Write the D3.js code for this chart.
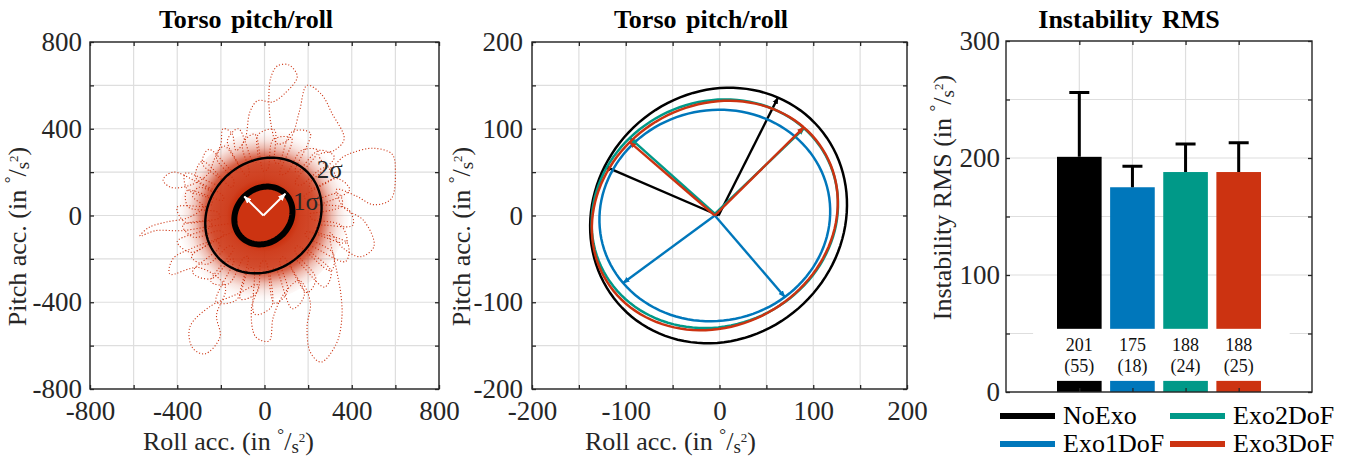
<!DOCTYPE html>
<html>
<head>
<meta charset="utf-8">
<script src="https://cdn.jsdelivr.net/npm/d3@7/dist/d3.min.js"></script>
<style>
    body { margin: 0; background: #fff; }
    svg text { font-family: "Liberation Serif", "Times New Roman", serif; fill: #262626; }
</style>
</head>
<body>
<svg id="chart"></svg>
<script>
// ---- data ----
const groups = ["NoExo", "Exo1DoF", "Exo2DoF", "Exo3DoF"];
const groupColors = ["#000000", "#0077BB", "#009988", "#CC3311"];
const rmsMean = [201, 175, 188, 188];
const rmsSd = [55, 18, 24, 25];

// 1 sigma ellipses of each condition: centre, major / minor half axes, angle of the major axis (deg)
const ellCx = [-1, -5, -5, -5];
const ellCy = [0, 0, 2, 0];
const ellMajor = [150, 125, 137, 139];
const ellMinor = [134, 120, 126, 124];
const ellAngle = [65, 218.5, 46, 47];

// sigma ellipse of the raw Exo3DoF samples (left panel)
const sigmaEll = {cx: -5, cy: 0, major: 142, minor: 124, angle: 45};

// torso trajectory (roll acc., pitch acc.): large excursions
const torsoPath = [
    [0, 0], [-120, -30], [-250, -50], [-380, -70], [-500, -70], [-571, -95], [-530, -55], [-450, -30],
    [-350, -10], [-280, 40], [-330, 90], [-300, 130], [-240, 110], [-320, 160], [-420, 200], [-465, 165],
    [-430, 130], [-340, 140], [-260, 190], [-230, 260], [-200, 330], [-190, 400], [-150, 380], [-130, 300],
    [-90, 350], [-66, 480], [-30, 530], [35, 523], [90, 560], [150, 640], [112, 694], [60, 690], [30, 640],
    [20, 540], [30, 420], [60, 330], [120, 360], [160, 480], [195, 600], [260, 560], [310, 470], [365, 353],
    [320, 300], [250, 280], [300, 220], [360, 270], [410, 292], [500, 310], [585, 283], [600, 200],
    [580, 76], [500, 50], [420, 90], [330, 120], [360, 40], [456, -25], [502, -142], [440, -190],
    [360, -150], [300, -80], [330, -250], [350, -362], [355, -468], [330, -590], [259, -676], [210, -630],
    [195, -514], [210, -400], [160, -300], [90, -360], [40, -470], [21, -578], [-40, -560], [-60, -430],
    [-30, -320], [-120, -360], [-250, -420], [-342, -514], [-330, -610], [-273, -638], [-204, -560],
    [-220, -460], [-180, -330], [-300, -240], [-434, -270], [-420, -200], [-330, -150], [-200, -100], [0, 0]
];
// small loops around the dense core
const torsoRing = [
    [210, 10], [355, 45], [340, 100], [220, 70], [180, 85], [325, 185], [275, 220], [165, 140],
    [140, 150], [245, 300], [170, 300], [100, 195], [70, 190], [125, 355], [40, 350], [15, 215],
    [-5, 205], [-45, 375], [-100, 330], [-70, 200], [-80, 180], [-185, 320], [-220, 265], [-140, 160],
    [-150, 130], [-285, 250], [-315, 175], [-190, 90], [-190, 70], [-355, 115], [-350, 40], [-215, 15],
    [-205, -10], [-375, -45], [-325, -100], [-205, -70], [-185, -85], [-335, -190], [-265, -225], [-160, -140],
    [-140, -150], [-245, -305], [-165, -315], [-95, -195], [-75, -190], [-110, -385], [-35, -355], [-15, -215],
    [5, -210], [45, -405], [105, -350], [70, -210], [85, -190], [195, -355], [235, -290], [140, -165],
    [150, -140], [305, -255], [315, -175], [190, -95], [190, -75], [375, -125], [350, -45], [215, -15], [210, 10]
];
const torsoRing2 = [
    [245, 48], [390, 118], [335, 170], [215, 125], [205, 142], [320, 270], [250, 300], [150, 200],
    [140, 205], [210, 380], [125, 385], [65, 240], [48, 245], [45, 395], [-30, 372], [-32, 250],
    [-50, 245], [-120, 400], [-170, 345], [-118, 222], [-142, 205], [-255, 305], [-285, 240], [-195, 158],
    [-205, 140], [-362, 195], [-355, 122], [-242, 72], [-246, 46], [-400, 38], [-365, -30], [-250, -28],
    [-243, -50], [-400, -120], [-338, -170], [-220, -118], [-205, -142], [-330, -262], [-245, -292], [-152, -200],
    [-140, -205], [-222, -398], [-130, -390], [-70, -242], [-50, -245], [-45, -455], [32, -420], [30, -250],
    [50, -245], [128, -430], [183, -365], [120, -222], [140, -205], [275, -330], [305, -258], [198, -152],
    [205, -140], [372, -212], [380, -128], [238, -72], [245, -48], [405, -45], [382, 30], [245, 48]
];

const pitchTicks = [-800, -400, 0, 400, 800];
const pitchGrid = d3.range(-800, 801, 200);
const meanTicks = [-200, -100, 0, 100, 200];
const meanGrid = d3.range(-200, 201, 50);
const rmsTicks = [0, 100, 200, 300];
const rmsGrid = d3.range(0, 301, 50);

// ---- helpers ----
const serif = "'Liberation Serif', 'Times New Roman', serif";
const svg = d3.select("#chart").attr("width", 1356).attr("height", 457).attr("font-family", serif);
const defs = svg.append("defs");
const axisColor = "#262626";
const gridColor = "#dedede";
const red = "#CC3311";

function arrowMarker(id, color, size) {
    defs.append("marker")
        .attr("id", id)
        .attr("viewBox", "0 0 10 10")
        .attr("refX", 9).attr("refY", 5)
        .attr("markerWidth", size).attr("markerHeight", size)
        .attr("markerUnits", "userSpaceOnUse")
        .attr("orient", "auto")
        .append("path")
        .attr("d", "M0,1L10,5L0,9Z")
        .attr("fill", color);
}

function ellipsePoints(cx, cy, a, b, deg) {
    const r = deg * Math.PI / 180;
    return d3.range(0, 361, 3).map(function (t) {
        const u = t * Math.PI / 180;
        const ex = a * Math.cos(u), ey = b * Math.sin(u);
        return [cx + ex * Math.cos(r) - ey * Math.sin(r), cy + ex * Math.sin(r) + ey * Math.cos(r)];
    });
}

// "(in °/s²)" in the MATLAB latex look
function unitLabel(sel, prefix) {
    sel.attr("font-size", 26).attr("font-family", serif);
    sel.append("tspan").text(prefix + " (in ");
    sel.append("tspan").attr("font-size", 17).attr("dy", -10).text("°");
    sel.append("tspan").attr("font-size", 26).attr("dy", 10).text("/");
    sel.append("tspan").attr("font-size", 19).attr("dy", 3).text("s");
    sel.append("tspan").attr("font-size", 13).attr("dy", -11).text("2");
    sel.append("tspan").attr("font-size", 26).attr("dy", 8).text(")");
}

function frame(g, x, y, opt) {
    const [x0, x1] = x.range();
    const [y1, y0] = y.range();

    g.append("g").selectAll("line").data(opt.xGrid).join("line")
        .attr("x1", d => x(d)).attr("x2", d => x(d)).attr("y1", y0).attr("y2", y1)
        .attr("stroke", gridColor).attr("stroke-width", 1.2);
    g.append("g").selectAll("line").data(opt.yGrid).join("line")
        .attr("x1", x0).attr("x2", x1).attr("y1", d => y(d)).attr("y2", d => y(d))
        .attr("stroke", gridColor).attr("stroke-width", 1.2);
}

function axes(g, x, y, opt) {
    const [x0, x1] = x.range();
    const [y1, y0] = y.range();
    const fx = d => opt.xTicks.includes(d) ? String(d) : "";
    const fy = d => opt.yTicks.includes(d) ? String(d) : "";

    const parts = [
        [d3.axisBottom(x).tickValues(opt.xGrid).tickFormat(fx).tickPadding(12), `translate(0,${y1})`],
        [d3.axisTop(x).tickValues(opt.xGrid).tickFormat(""), `translate(0,${y0})`],
        [d3.axisLeft(y).tickValues(opt.yGrid).tickFormat(fy).tickPadding(opt.yPad), `translate(${x0},0)`],
        [d3.axisRight(y).tickValues(opt.yGrid).tickFormat(""), `translate(${x1},0)`]
    ];
    parts.forEach(function (p) {
        const a = g.append("g").attr("transform", p[1])
            .call(p[0].tickSize(-4))
            .attr("font-family", serif)
            .attr("font-size", 27);
        a.select(".domain").remove();
        a.selectAll("line").attr("stroke", axisColor).attr("stroke-width", 1.3);
        a.selectAll("text").style("fill", axisColor);
    });

    g.append("rect")
        .attr("x", x0).attr("y", y0).attr("width", x1 - x0).attr("height", y1 - y0)
        .attr("fill", "none").attr("stroke", axisColor).attr("stroke-width", 1.4);
}

function title(txt, cx) {
    svg.append("text")
        .attr("x", cx).attr("y", 28)
        .attr("text-anchor", "middle")
        .attr("font-size", 26).attr("font-weight", "bold")
        .attr("word-spacing", 3)
        .style("fill", "#000")
        .text(txt);
}

// ---- left: raw torso pitch/roll ----
function rawPanel() {
    const x = d3.scaleLinear().domain([-800, 800]).range([90, 439]);
    const y = d3.scaleLinear().domain([-800, 800]).range([389, 42]);
    const g = svg.append("g");
    const opt = {xGrid: pitchGrid, yGrid: pitchGrid, xTicks: pitchTicks, yTicks: pitchTicks, yPad: 8};
    const line = d3.line().x(d => x(d[0])).y(d => y(d[1]));
    const curve = d3.line().x(d => x(d[0])).y(d => y(d[1])).curve(d3.curveCatmullRom.alpha(0.5));

    frame(g, x, y, opt);

    // dense core of the cloud
    const grad = defs.append("radialGradient").attr("id", "core");
    [[0, 1], [0.36, 1], [0.42, 0.94], [0.6, 0.88], [0.67, 0.78], [0.72, 0.58], [0.78, 0.34], [0.86, 0.14], [0.93, 0.05], [1, 0]]
        .forEach(s => grad.append("stop").attr("offset", s[0]).attr("stop-color", red).attr("stop-opacity", s[1]));
    g.append("path")
        .attr("d", line(ellipsePoints(sigmaEll.cx, sigmaEll.cy, 3 * sigmaEll.major, 3 * sigmaEll.minor, sigmaEll.angle)) + "Z")
        .attr("fill", "url(#core)");

    g.selectAll(".traj").data([torsoRing2, torsoRing, torsoPath]).join("path")
        .attr("d", curve)
        .attr("fill", "none")
        .attr("stroke", red)
        .attr("stroke-width", 1.1)
        .attr("stroke-dasharray", "1.1 2");

    // 2 sigma and 1 sigma
    g.append("path")
        .attr("d", line(ellipsePoints(sigmaEll.cx, sigmaEll.cy, 2 * sigmaEll.major, 2 * sigmaEll.minor, sigmaEll.angle)))
        .attr("fill", "none").attr("stroke", "#000").attr("stroke-width", 2.4);
    g.append("path")
        .attr("d", line(ellipsePoints(sigmaEll.cx, sigmaEll.cy, sigmaEll.major, sigmaEll.minor, sigmaEll.angle)))
        .attr("fill", red).attr("stroke", "#000").attr("stroke-width", 6);

    arrowMarker("arrWhite", "#fff", 8);
    const r = sigmaEll.angle * Math.PI / 180;
    [[sigmaEll.major, r], [sigmaEll.minor, r + Math.PI / 2]].forEach(function (p) {
        g.append("line")
            .attr("x1", x(sigmaEll.cx)).attr("y1", y(sigmaEll.cy))
            .attr("x2", x(sigmaEll.cx + p[0] * Math.cos(p[1]))).attr("y2", y(sigmaEll.cy + p[0] * Math.sin(p[1])))
            .attr("stroke", "#fff").attr("stroke-width", 2)
            .attr("marker-end", "url(#arrWhite)");
    });

    g.append("text").attr("x", x(240)).attr("y", y(172)).attr("font-size", 25).text("2σ");
    g.append("text").attr("x", x(131)).attr("y", y(25)).attr("font-size", 25).text("1σ");

    axes(g, x, y, opt);
    title("Torso pitch/roll", 246);

    unitLabel(svg.append("text").attr("x", 228.5).attr("y", 450).attr("text-anchor", "middle"), "Roll acc.");
    unitLabel(svg.append("text").attr("transform", "translate(26,236.5) rotate(-90)").attr("text-anchor", "middle"), "Pitch acc.");
}

// ---- middle: 1 sigma ellipses per condition ----
function ellipsePanel() {
    const x = d3.scaleLinear().domain([-200, 200]).range([532, 907]);
    const y = d3.scaleLinear().domain([-200, 200]).range([389, 42]);
    const g = svg.append("g");
    const opt = {xGrid: meanGrid, yGrid: meanGrid, xTicks: meanTicks, yTicks: meanTicks, yPad: 9};
    const line = d3.line().x(d => x(d[0])).y(d => y(d[1]));

    frame(g, x, y, opt);

    groups.forEach(function (name, i) {
        const c = groupColors[i];
        arrowMarker("arr" + i, c, 7);
        g.append("path")
            .attr("d", line(ellipsePoints(ellCx[i], ellCy[i], ellMajor[i], ellMinor[i], ellAngle[i])))
            .attr("fill", "none").attr("stroke", c).attr("stroke-width", 2.5);
        const r = ellAngle[i] * Math.PI / 180;
        [[ellMajor[i], r], [ellMinor[i], r + Math.PI / 2]].forEach(function (p) {
            g.append("line")
                .attr("x1", x(ellCx[i])).attr("y1", y(ellCy[i]))
                .attr("x2", x(ellCx[i] + p[0] * Math.cos(p[1]))).attr("y2", y(ellCy[i] + p[0] * Math.sin(p[1])))
                .attr("stroke", c).attr("stroke-width", 2.4)
                .attr("marker-end", `url(#arr${i})`);
        });
    });

    axes(g, x, y, opt);
    title("Torso pitch/roll", 701);

    unitLabel(svg.append("text").attr("x", 670.5).attr("y", 450).attr("text-anchor", "middle"), "Roll acc.");
    unitLabel(svg.append("text").attr("transform", "translate(470,236.5) rotate(-90)").attr("text-anchor", "middle"), "Pitch acc.");
}

// ---- right: instability RMS bars ----
function rmsPanel() {
    const x = d3.scaleLinear().domain([-0.38, 5.38]).range([1006, 1312]);
    const y = d3.scaleLinear().domain([0, 300]).range([392, 41]);
    const g = svg.append("g");
    const pos = groups.map((d, i) => i + 1);
    const opt = {xGrid: pos, yGrid: rmsGrid, xTicks: [], yTicks: rmsTicks, yPad: 6};
    const bw = 0.84 * (x(1) - x(0));

    frame(g, x, y, opt);

    g.selectAll(".bar").data(rmsMean).join("rect")
        .attr("x", (d, i) => x(pos[i]) - bw / 2)
        .attr("width", bw)
        .attr("y", d => y(d))
        .attr("height", d => y(0) - y(d))
        .attr("fill", (d, i) => groupColors[i]);

    // error bars (upper only)
    g.selectAll(".err").data(rmsMean).join("path")
        .attr("d", (d, i) => `M${x(pos[i])},${y(d)}V${y(d + rmsSd[i])}M${x(pos[i]) - 10},${y(d + rmsSd[i])}h20`)
        .attr("fill", "none").attr("stroke", "#000").attr("stroke-width", 3);

    // value box
    g.append("rect")
        .attr("x", x(0.13)).attr("width", x(4.96) - x(0.13))
        .attr("y", y(54)).attr("height", y(9.5) - y(54))
        .attr("fill", "#fff");
    const lab = g.selectAll(".lab").data(rmsMean).join("text")
        .attr("text-anchor", "middle")
        .attr("font-size", 18)
        .style("fill", "#111");
    lab.append("tspan").attr("x", (d, i) => x(pos[i])).attr("y", y(54) + 22).text(d => d);
    lab.append("tspan").attr("x", (d, i) => x(pos[i])).attr("y", y(54) + 43).text((d, i) => `(${rmsSd[i]})`);

    axes(g, x, y, opt);
    title("Instability RMS", 1129);

    unitLabel(svg.append("text").attr("transform", "translate(951,197.5) rotate(-90)").attr("text-anchor", "middle"), "Instability RMS");

    // legend: NoExo / Exo2DoF on the top row, Exo1DoF / Exo3DoF below
    const leg = svg.append("g").selectAll("g").data(groups).join("g")
        .attr("transform", function (d, i) {
            const col = i < 2 ? 0 : 1;
            const row = i % 2;
            return `translate(${col ? 1170 : 1000},${row ? 444 : 416})`;
        });
    leg.append("line").attr("x1", 0).attr("x2", 55)
        .attr("stroke", (d, i) => groupColors[i]).attr("stroke-width", 6);
    leg.append("text").attr("x", 63).attr("y", 8).attr("font-size", 26).style("fill", "#000").text(d => d);
}

rawPanel();
ellipsePanel();
rmsPanel();
</script>
</body>
</html>
